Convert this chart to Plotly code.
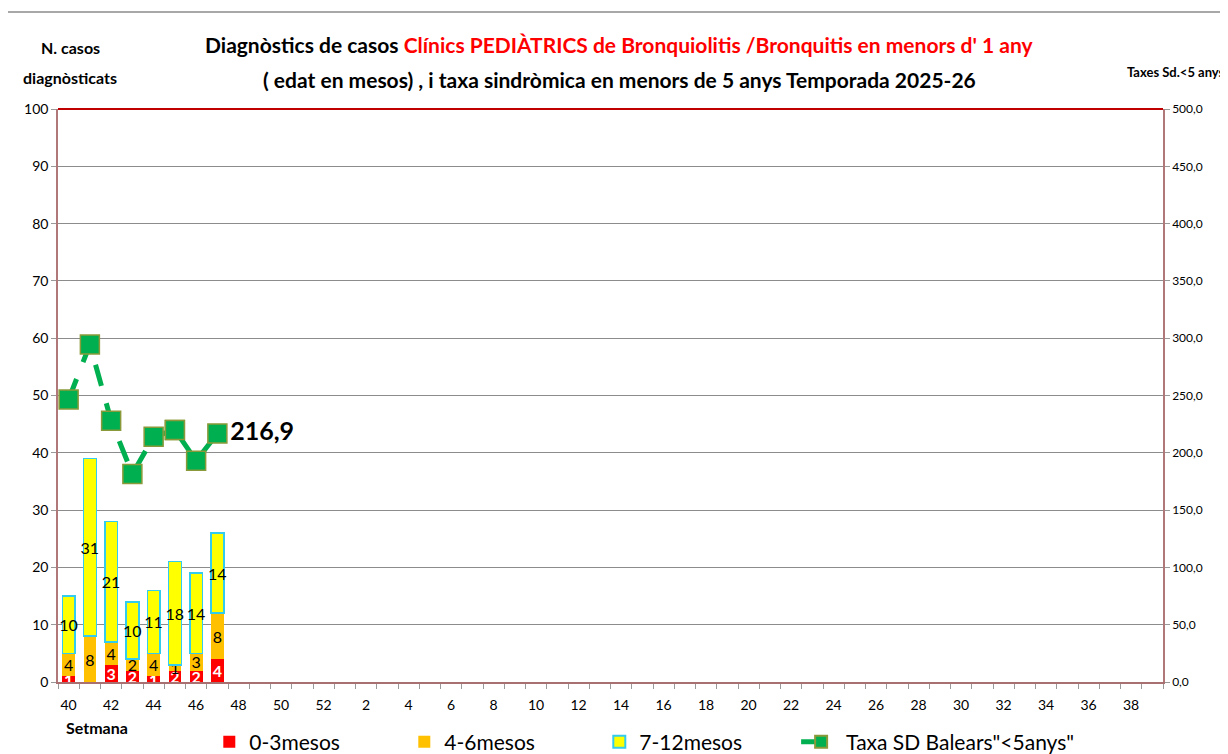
import plotly.graph_objects as go

# ---------------- data ----------------
weeks = ["40", "41", "42", "43", "44", "45", "46", "47", "48", "49", "50", "51", "52",
         "1", "2", "3", "4", "5", "6", "7", "8", "9", "10", "11", "12", "13", "14",
         "15", "16", "17", "18", "19", "20", "21", "22", "23", "24", "25", "26", "27",
         "28", "29", "30", "31", "32", "33", "34", "35", "36", "37", "38", "39"]
week_labels = ["40", "", "42", "", "44", "", "46", "", "48", "", "50", "", "52",
               "", "2", "", "4", "", "6", "", "8", "", "10", "", "12", "", "14",
               "", "16", "", "18", "", "20", "", "22", "", "24", "", "26", "",
               "28", "", "30", "", "32", "", "34", "", "36", "", "38", ""]
data_weeks = ["40", "41", "42", "43", "44", "45", "46", "47"]
m0_3 = [1, 0, 3, 2, 1, 2, 2, 4]
m4_6 = [4, 8, 4, 2, 4, 1, 3, 8]
m7_12 = [10, 31, 21, 10, 11, 18, 14, 14]
taxa = [246.5, 294.5, 228.0, 181.5, 214.0, 220.0, 193.0, 216.9]
left_ticks = [0, 10, 20, 30, 40, 50, 60, 70, 80, 90, 100]
right_ticks = [0, 50, 100, 150, 200, 250, 300, 350, 400, 450, 500]

FONT = "Lato, sans-serif"
GREEN = "#00B050"
MARKER = dict(symbol="square", size=19, color=GREEN, line=dict(color="#8A9A3A", width=1.5))


def lab(vals):
    return [str(v) if v else "" for v in vals]


fig = go.Figure()

fig.add_trace(go.Bar(
    x=data_weeks, y=m0_3, name="0-3mesos",
    marker=dict(color="#FF0000", line=dict(width=0)),
    text=lab(m0_3), textposition="inside", insidetextanchor="middle",
    textangle=0, constraintext="none",
    textfont=dict(color="white", size=16, family=FONT, weight="bold"),
))
fig.add_trace(go.Bar(
    x=data_weeks, y=m4_6, name="4-6mesos",
    marker=dict(color="#FFC000", line=dict(width=0)),
    text=lab(m4_6), textposition="inside", insidetextanchor="middle",
    textangle=0, constraintext="none",
    textfont=dict(color="black", size=16, family=FONT),
))
fig.add_trace(go.Bar(
    x=data_weeks, y=m7_12, name="7-12mesos",
    marker=dict(color="#FFFF00", line=dict(width=1.5, color="#33CCEE")),
    text=lab(m7_12), textposition="inside", insidetextanchor="middle",
    textangle=0, constraintext="none",
    textfont=dict(color="black", size=16, family=FONT),
))

# rate line: dashed part (weeks 40-45) and solid part (weeks 45-47)
fig.add_trace(go.Scatter(
    x=data_weeks[:6], y=taxa[:6], yaxis="y2", mode="lines+markers",
    name='Taxa SD Balears"&lt;5anys"', legend="legend2",
    line=dict(color=GREEN, width=5, dash="22px,18px"),
    marker=MARKER,
))
fig.add_trace(go.Scatter(
    x=data_weeks[5:], y=taxa[5:], yaxis="y2", mode="lines+markers+text",
    line=dict(color=GREEN, width=5), marker=MARKER,
    text=[""] * (len(taxa[5:]) - 1) + [f"{taxa[-1]:.1f}".replace(".", ",")],
    textposition="middle right",
    textfont=dict(size=25, color="black", family=FONT, weight="bold"),
    showlegend=False,
))

# The page body adds an 8px offset, so the figure is 8px smaller and margins compensate.
fig.update_layout(
    width=1220, height=746,
    margin=dict(l=50, r=65, t=101, b=72, autoexpand=False),
    barmode="stack", bargap=0.4,
    plot_bgcolor="white", paper_bgcolor="white",
    separators=",.",
    font=dict(family=FONT, color="black"),
    showlegend=True,
    legend=dict(
        orientation="h", xref="container", yref="container",
        x=0.165, y=0.016, xanchor="left", yanchor="middle",
        font=dict(size=21, family=FONT, color="black"),
        entrywidth=150, entrywidthmode="pixels",
        itemsizing="constant", traceorder="normal",
        bgcolor="rgba(0,0,0,0)",
    ),
    legend2=dict(
        orientation="h", xref="container", yref="container",
        x=0.646, y=0.016, xanchor="left", yanchor="middle",
        font=dict(size=21, family=FONT, color="black"),
        itemsizing="constant", itemwidth=40,
        bgcolor="rgba(0,0,0,0)",
    ),
    xaxis=dict(
        type="category", categoryorder="array", categoryarray=weeks,
        range=[-0.5, len(weeks) - 0.5],
        tickmode="array", tickvals=weeks, ticktext=week_labels,
        tickson="boundaries", ticks="outside", ticklen=5, tickcolor="#999999",
        tickangle=0, automargin=False, ticklabelstandoff=9,
        tickfont=dict(size=14, family=FONT, color="black"),
        showline=True, linecolor="#A87070", linewidth=2,
        showgrid=False, zeroline=False,
    ),
    yaxis=dict(
        range=[0, 100], tickmode="array", tickvals=left_ticks,
        ticks="outside", ticklen=5, tickcolor="#999999", automargin=False,
        tickfont=dict(size=14, family=FONT, color="black"),
        showline=True, linecolor="#B07878", linewidth=1.5,
        showgrid=True, gridcolor="#8C8C8C", gridwidth=1,
        zeroline=False,
    ),
    yaxis2=dict(
        overlaying="y", side="right", range=[0, 500],
        tickmode="array", tickvals=right_ticks, tickformat=".1f",
        ticks="outside", ticklen=5, tickcolor="#999999", automargin=False,
        tickfont=dict(size=12, family=FONT, color="black"),
        showline=True, linecolor="#B07878", linewidth=1.5,
        showgrid=False, zeroline=False,
    ),
    shapes=[
        dict(type="line", xref="paper", yref="paper", x0=0, x1=1, y0=1, y1=1,
             line=dict(color="#C00000", width=2)),
        dict(type="rect", xref="paper", yref="paper", x0=-0.0462, x1=1.08,
             y0=-0.2, y1=1.1693, line=dict(color="#8C8C8C", width=1.5),
             layer="below"),
    ],
    annotations=[
        dict(xref="paper", yref="paper", x=0.5085, y=1.112, showarrow=False,
             xanchor="center", yanchor="middle",
             text="<b>Diagnòstics de casos <span style='color:#FF0000'>Clínics PEDIÀTRICS de Bronquiolitis /Bronquitis en menors d' 1 any</span></b>",
             font=dict(size=21, family=FONT, color="black")),
        dict(xref="paper", yref="paper", x=0.5085, y=1.051, showarrow=False,
             xanchor="center", yanchor="middle",
             text="<b>( edat en mesos) , i taxa sindròmica en menors de 5 anys Temporada 2025-26</b>",
             font=dict(size=21, family=FONT, color="black")),
        dict(xref="paper", yref="paper", x=0.011, y=1.1065, showarrow=False,
             xanchor="center", yanchor="middle",
             text="<b>N. casos</b>",
             font=dict(size=16, family=FONT, color="black")),
        dict(xref="paper", yref="paper", x=0.011, y=1.0545, showarrow=False,
             xanchor="center", yanchor="middle",
             text="<b>diagnòsticats</b>",
             font=dict(size=16, family=FONT, color="black")),
        dict(xref="paper", yref="paper", x=1.0575, y=1.064, showarrow=False,
             xanchor="right", yanchor="middle",
             text="<b>Taxes Sd.&lt;5 anys</b>",
             font=dict(size=13, family=FONT, color="black")),
        dict(xref="paper", yref="paper", x=0.035, y=-0.08, showarrow=False,
             xanchor="center", yanchor="middle",
             text="<b>Setmana</b>",
             font=dict(size=16, family=FONT, color="black")),
    ],
)

fig.write_html("out.html")
